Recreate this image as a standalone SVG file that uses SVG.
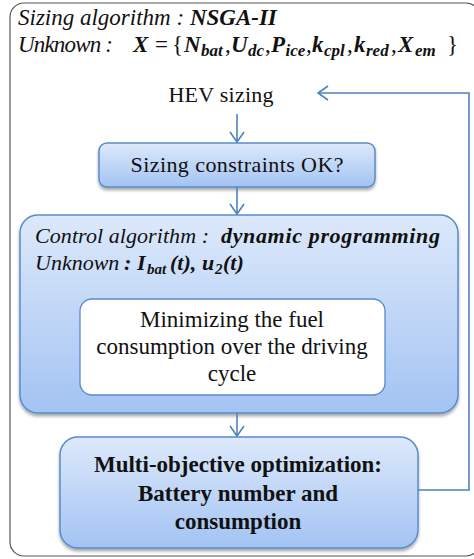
<svg xmlns="http://www.w3.org/2000/svg" width="474" height="559" viewBox="0 0 474 559">
<defs>
<linearGradient id="blue" x1="0" y1="0" x2="0" y2="1">
<stop offset="0" stop-color="#dde9fb"/>
<stop offset="1" stop-color="#a3c3f3"/>
</linearGradient>
<filter id="sh" x="-10%" y="-10%" width="120%" height="130%">
<feDropShadow dx="0" dy="2.5" stdDeviation="1.8" flood-color="#000" flood-opacity="0.35"/>
</filter>
<marker id="arr" viewBox="0 0 12 16" refX="11" refY="8" markerWidth="12" markerHeight="16" markerUnits="userSpaceOnUse" orient="auto">
<path d="M1,1 L11,8 L1,15" fill="none" stroke="#4f81bd" stroke-width="1.6"/>
</marker>
<style>
text{font-family:'Liberation Serif','Times New Roman',serif;fill:#111;}
.it{font-style:italic;}
.bi{font-style:italic;font-weight:bold;}
.sb{font-style:italic;font-weight:bold;font-size:17px;}
.box{fill:url(#blue);stroke:#5a8bcb;stroke-width:1.5;filter:url(#sh);}
.con{fill:none;stroke:#4f81bd;stroke-width:1.6;}
</style>
</defs>
<g id="frame">
<rect x="10" y="3" width="470" height="553" rx="14" ry="14" fill="#fff" stroke="#555" stroke-width="1.2"/>
<text class="it" x="18" y="25" font-size="23">Sizing algorithm : <tspan class="bi">NSGA-II</tspan></text>
<text class="it" x="18" y="52" font-size="23" textLength="95">Unknown :</text>
<text y="52" font-size="23"><tspan class="bi" x="133">X</tspan><tspan x="155">=</tspan><tspan x="172">{</tspan><tspan class="bi" x="184">N</tspan><tspan class="sb" x="201" dy="4">bat</tspan><tspan x="225" dy="-4">,</tspan><tspan class="bi" x="231">U</tspan><tspan class="sb" x="248" dy="4">dc</tspan><tspan x="265" dy="-4">,</tspan><tspan class="bi" x="271">P</tspan><tspan class="sb" x="285.5" dy="4">ice</tspan><tspan x="306" dy="-4">,</tspan><tspan class="bi" x="312">k</tspan><tspan class="sb" x="324" dy="4">cpl</tspan><tspan x="347" dy="-4">,</tspan><tspan class="bi" x="354">k</tspan><tspan class="sb" x="366" dy="4">red</tspan><tspan x="391" dy="-4">,</tspan><tspan class="bi" x="398">X</tspan><tspan class="sb" x="415" dy="4">em</tspan><tspan x="447" dy="-4">}</tspan></text>
</g>
<g id="hev">
<text x="221" y="102" font-size="22" text-anchor="middle" textLength="105">HEV sizing</text>
</g>
<g id="constraints">
<rect class="box" x="99" y="143" width="276" height="44" rx="8" ry="8"/>
<text x="237" y="172" font-size="22" text-anchor="middle" textLength="213">Sizing  constraints OK?</text>
</g>
<g id="control">
<rect class="box" x="20" y="215" width="438" height="198" rx="18" ry="18"/>
<text class="it" x="35" y="243" font-size="22" textLength="174">Control algorithm :</text>
<text class="bi" x="221" y="243" font-size="22" textLength="219">dynamic programming</text>
<text class="it" x="35" y="270" font-size="22">Unknown</text>
<text class="bi" x="124" y="270" font-size="22">:</text>
<text class="bi" y="270" font-size="22"><tspan x="137">I</tspan><tspan x="147" dy="4" font-size="15">bat</tspan><tspan x="170" dy="-4">(t),</tspan><tspan x="202">u</tspan><tspan x="215" dy="4" font-size="15">2</tspan><tspan x="223" dy="-4">(t)</tspan></text>
</g>
<g id="minimize">
<rect x="80" y="299" width="305" height="96" rx="12" ry="12" fill="#fff" stroke="#5a8bcb" stroke-width="1.3"/>
<text font-size="23" text-anchor="middle"><tspan x="232" y="327">Minimizing  the fuel</tspan><tspan x="232" y="354">consumption over the driving</tspan><tspan x="232" y="381">cycle</tspan></text>
</g>
<g id="multi">
<rect class="box" x="60" y="437" width="358" height="111" rx="18" ry="18"/>
<text font-size="23" font-weight="bold" text-anchor="middle"><tspan x="238" y="472">Multi-objective optimization:</tspan><tspan x="238" y="501">Battery number and</tspan><tspan x="238" y="529">consumption</tspan></text>
</g>
<g id="connectors">
<line class="con" x1="237" y1="114" x2="237" y2="142" marker-end="url(#arr)"/>
<line class="con" x1="237" y1="187" x2="237" y2="214" marker-end="url(#arr)"/>
<line class="con" x1="237" y1="413" x2="237" y2="436" marker-end="url(#arr)"/>
<polyline class="con" points="418,490 469,490 469,93 318,93" marker-end="url(#arr)"/>
</g>
</svg>
